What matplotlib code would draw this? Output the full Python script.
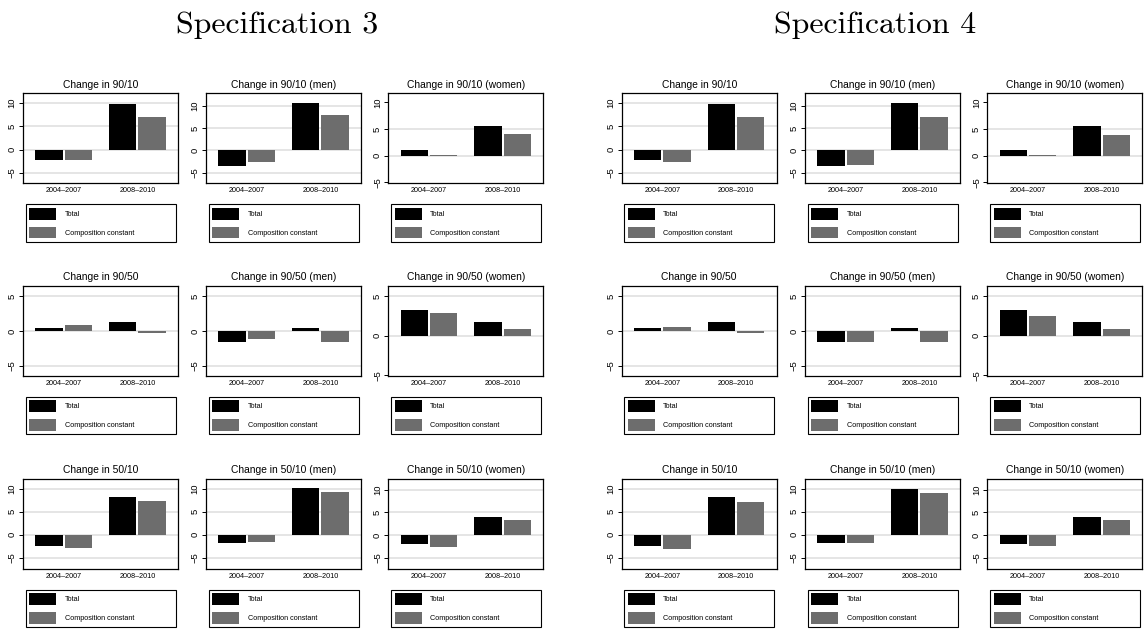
import matplotlib
matplotlib.use("Agg")
import matplotlib.pyplot as plt
from matplotlib import font_manager as fm
from matplotlib.patches import Patch

# ---------------- data ----------------
periods = ["2004–2007", "2008–2010"]
series_names = ["Total", "Composition constant"]
spec_titles = ["Specification 3", "Specification 4"]
panel_titles = [
    ["Change in 90/10", "Change in 90/10 (men)", "Change in 90/10 (women)"],
    ["Change in 90/50", "Change in 90/50 (men)", "Change in 90/50 (women)"],
    ["Change in 50/10", "Change in 50/10 (men)", "Change in 50/10 (women)"],
]

# [row][col] -> [2004-2007, 2008-2010]
spec3_total = [
    [[-2.3, 9.7], [-3.5, 10.7], [1.1, 5.6]],
    [[0.43, 1.35], [-1.6, 0.5], [3.2, 1.75]],
    [[-2.5, 8.3], [-1.9, 10.15], [-2.0, 4.0]],
]
spec3_comp = [
    [[-2.2, 7.1], [-2.5, 8.0], [0.15, 4.0]],
    [[0.85, -0.3], [-1.1, -1.6], [2.9, 0.88]],
    [[-3.0, 7.4], [-1.5, 9.3], [-2.7, 3.3]],
]
spec4_total = [
    [[-2.3, 9.7], [-3.4, 10.7], [1.1, 5.6]],
    [[0.43, 1.35], [-1.6, 0.5], [3.2, 1.75]],
    [[-2.5, 8.3], [-1.8, 10.1], [-2.0, 4.0]],
]
spec4_comp = [
    [[-2.7, 7.0], [-3.3, 7.6], [0.15, 3.9]],
    [[0.55, -0.3], [-1.6, -1.6], [2.5, 0.88]],
    [[-3.1, 7.2], [-1.8, 9.1], [-2.4, 3.2]],
]

row_ticks = [[-5, 0, 5, 10], [-5, 0, 5], [-5, 0, 5, 10]]
tick_labels = {-5: "−5", 0: "0", 5: "5", 10: "10"}

# ---------------- layout / style ----------------
W, H, DPI = 1145, 629, 100
ylims = [
    [(-7.2, 12.1), (-7.4, 12.85), (-5.2, 11.7)],
    [(-6.4, 6.5), (-6.4, 6.5), (-5.05, 6.3)],
    [(-7.45, 12.25), (-7.45, 12.25), (-7.45, 12.4)],
]
grid_skip = {(0, 2): [10]}
spec_col_left = [[23, 206, 388.3], [621.7, 805, 987.3]]
row_top = [93.3, 285.7, 478.7]
panel_w, panel_h = 155, 90
header_x = [277, 875]

names = {f.name for f in fm.fontManager.ttflist}
SANS = "Liberation Sans Narrow" if "Liberation Sans Narrow" in names else "Liberation Sans"
SERIF = "cmr10" if "cmr10" in names else "DejaVu Serif"

BLACK = "#000000"
GRAY = "#6d6d6d"
GRID = "#e3e3e3"

bar_w = 0.369
offset = 0.198

fig = plt.figure(figsize=(W / DPI, H / DPI), dpi=DPI)
renderer = fig.canvas.get_renderer()


def fit_size(s, family, target_px):
    t = fig.text(0, 0, s, family=family, fontsize=10)
    w = t.get_window_extent(renderer=renderer).width
    t.remove()
    return 10 * target_px / w


fs_title = fit_size("Change in 90/10", SANS, 75.6)
fs_xtick = fit_size("2004–2007", SANS, 36.7)
fs_ytick = fit_size("10", SANS, 10.5)
fs_leg = fit_size("Composition constant", SANS, 69.4)
fs_head = fit_size("Specification 3", SERIF, 202)
leg_px = fs_leg * DPI / 72.0

specs = [(spec3_total, spec3_comp), (spec4_total, spec4_comp)]
for s, (tot, comp) in enumerate(specs):
    fig.text(header_x[s] / W, 1 - 25 / H, spec_titles[s], family=SERIF,
             fontsize=fs_head, ha="center", va="center")
    for r in range(3):
        for c in range(3):
            left = spec_col_left[s][c]
            top = row_top[r]
            ax = fig.add_axes([left / W, 1 - (top + panel_h) / H,
                               panel_w / W, panel_h / H])
            x = [0, 1]
            ax.bar([xi - offset for xi in x], tot[r][c], width=bar_w,
                   color=BLACK, zorder=3, linewidth=0)
            ax.bar([xi + offset for xi in x], comp[r][c], width=bar_w,
                   color=GRAY, zorder=3, linewidth=0)
            ax.set_xlim(-0.55, 1.55)
            lo, hi = ylims[r][c]
            ax.set_ylim(lo, hi)
            ticks = row_ticks[r]
            ax.set_yticks(ticks)
            ax.set_yticklabels([tick_labels[t] for t in ticks],
                               family=SANS, fontsize=fs_ytick,
                               rotation=90, va="center")
            skip = grid_skip.get((r, c), [])
            for t in ticks:
                if lo + 0.3 < t < hi - 0.3 and t not in skip:
                    ax.axhline(t, color=GRID, lw=1.3, zorder=1)
            ax.set_xticks(x)
            ax.set_xticklabels(periods, family=SANS, fontsize=fs_xtick)
            ax.tick_params(axis="x", length=0, pad=3)
            ax.tick_params(axis="y", length=3, width=0.7, pad=1.5)
            for sp in ax.spines.values():
                sp.set_linewidth(0.9)
            ax.set_title(panel_titles[r][c], family=SANS, fontsize=fs_title,
                         pad=4)
            handles = [Patch(facecolor=BLACK, edgecolor="none"),
                       Patch(facecolor=GRAY, edgecolor="none")]
            hh = (11.7 / leg_px - 0.245) / 0.65
            leg = ax.legend(handles, series_names, loc="upper left",
                            bbox_to_anchor=(2.7 / panel_w, -0.65,
                                            150 / panel_w, 0.65 - 21 / panel_h),
                            mode="expand", borderaxespad=0, frameon=True,
                            fancybox=False, framealpha=1, edgecolor="black",
                            prop={"family": SANS, "size": fs_leg},
                            handlelength=27 / leg_px, handleheight=hh,
                            handletextpad=8.3 / leg_px,
                            labelspacing=7.0 / leg_px,
                            borderpad=3.6 / leg_px)
            leg.get_frame().set_linewidth(0.8)

fig.savefig("out.png", dpi=DPI)
